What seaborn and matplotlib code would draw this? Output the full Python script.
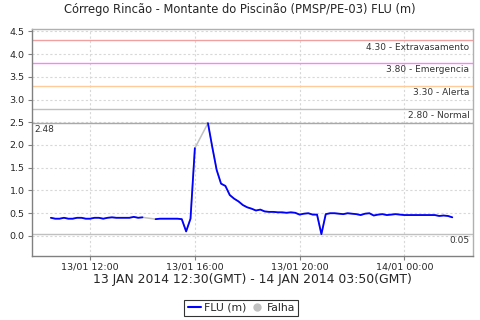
import numpy as np
import pandas as pd
import matplotlib
matplotlib.use("Agg")
import matplotlib.pyplot as plt
import matplotlib.dates as mdates
from matplotlib.lines import Line2D
import seaborn as sns

# ---- data (10-minute readings, local time) ----
start_time = "2014-01-13 10:30"
n_points = 93
flu_values = [
    0.40, 0.38, 0.38, 0.40, 0.38, 0.38, 0.40, 0.40, 0.38, 0.38, 0.40,
    0.40, 0.38, 0.40, 0.41, 0.40, 0.40, 0.40, 0.40, 0.42, 0.40, 0.41,
    None, None,
    0.37, 0.38, 0.38, 0.38, 0.38, 0.38, 0.37, 0.10, 0.38, 1.93,
    None, None,
    2.48, 1.95, 1.45, 1.15, 1.10, 0.90, 0.82, 0.76, 0.68, 0.63, 0.60,
    0.56, 0.58, 0.54, 0.53, 0.53, 0.52, 0.52, 0.51, 0.52, 0.51, 0.47,
    0.49, 0.50, 0.47, 0.47, 0.04, 0.48, 0.50, 0.50, 0.49, 0.48, 0.50,
    0.49, 0.48, 0.46, 0.49, 0.50, 0.45, 0.47, 0.48, 0.46, 0.47, 0.48,
    0.47, 0.46, 0.46, 0.46, 0.46, 0.46, 0.46, 0.46, 0.46, 0.44, 0.45,
    0.44, 0.41,
]
threshold_values = [4.30, 3.80, 3.30, 2.80]
threshold_names = ["Extravasamento", "Emergencia", "Alerta", "Normal"]
threshold_colors = ["#f0a0a0", "#ff80ff", "#ffcc99", "#c0c0c0"]
max_value = 2.48
min_value = 0.05
y_ticks = [0.0, 0.5, 1.0, 1.5, 2.0, 2.5, 3.0, 3.5, 4.0, 4.5]
x_tick_times = ["2014-01-13 12:00", "2014-01-13 16:00", "2014-01-13 20:00", "2014-01-14 00:00"]
title = "Córrego Rincão - Montante do Piscinão (PMSP/PE-03) FLU (m)"
x_label = "13 JAN 2014 12:30(GMT) - 14 JAN 2014 03:50(GMT)"
x_range = ["2014-01-13 09:46", "2014-01-14 02:37"]

times = pd.date_range(start_time, periods=n_points, freq="10min")
df = pd.DataFrame({"time": times, "flu": pd.array(flu_values, dtype="Float64").astype(float)})
df["seg"] = df["flu"].isna().cumsum()
valid = df.dropna().copy()

sns.set_style("white")
plt.rcParams["font.family"] = ["DejaVu Sans"]

fig = plt.figure(figsize=(4.8, 3.2), dpi=100)
ax = fig.add_axes([0.066, 0.2, 0.919, 0.708])

# falha (gaps) drawn as gray line through valid points
sns.lineplot(data=valid, x="time", y="flu", color="#c0c0c0", lw=1.1, ax=ax,
             estimator=None, legend=False)
sns.lineplot(data=valid, x="time", y="flu", units="seg", estimator=None,
             color="#0000ff", lw=1.3, ax=ax, legend=False)

# threshold lines
for v, name, c in zip(threshold_values, threshold_names, threshold_colors):
    ax.axhline(v, color=c, lw=1.0, zorder=1)
    ax.text(0.992, v - 0.05, f"{v:.2f} - {name}", transform=ax.get_yaxis_transform(),
            ha="right", va="top", fontsize=6.5, color="#333333")
ax.axhline(max_value, color="#a8a8a8", lw=1.0, zorder=1)
ax.text(0.006, max_value - 0.05, f"{max_value:.2f}", transform=ax.get_yaxis_transform(),
        ha="left", va="top", fontsize=6.5, color="#333333")
ax.axhline(min_value, color="#c0c0c0", lw=1.0, zorder=1)
ax.text(0.992, min_value - 0.05, f"{min_value:.2f}", transform=ax.get_yaxis_transform(),
        ha="right", va="top", fontsize=6.5, color="#333333")

ax.set_ylim(-0.44, 4.54)
ax.set_xlim(pd.Timestamp(x_range[0]), pd.Timestamp(x_range[1]))
ax.set_yticks(y_ticks)
ax.set_yticklabels([f"{t:.1f}" for t in y_ticks])
ax.set_xticks([pd.Timestamp(t) for t in x_tick_times])
ax.xaxis.set_major_formatter(mdates.DateFormatter("%d/%m %H:%M"))
ax.tick_params(axis="both", labelsize=6.8, length=3, width=0.8, color="#808080",
               direction="out", left=True, bottom=True, pad=2)
ax.grid(True, color="#d8d8d8", ls=(0, (2, 2)), lw=0.8)
ax.set_axisbelow(True)
for s in ax.spines.values():
    s.set_color("#b0b0b0")
    s.set_linewidth(1.0)
ax.spines["left"].set_color("#808080")
ax.spines["bottom"].set_color("#808080")
ax.set_ylabel("")
ax.set_xlabel(x_label, fontsize=8.9, labelpad=1)

fig.text(0.5, 1 - 10 / 320, title, ha="center", va="center", fontsize=8.3)

handles = [Line2D([0], [0], color="#0000ff", lw=1.5),
           Line2D([0], [0], marker="o", color="none", markerfacecolor="#c0c0c0",
                  markeredgecolor="#c0c0c0", markersize=5)]
leg = fig.legend(handles, ["FLU (m)", "Falha"], loc="center", bbox_to_anchor=(0.503, 1 - 308 / 320),
                 ncol=2, fontsize=7.8, frameon=True, fancybox=False, handlelength=1.2,
                 handletextpad=0.3, columnspacing=0.4, borderpad=0.3, borderaxespad=0)
leg.get_frame().set_edgecolor("black")
leg.get_frame().set_linewidth(0.8)

fig.savefig("out.png", dpi=100)
